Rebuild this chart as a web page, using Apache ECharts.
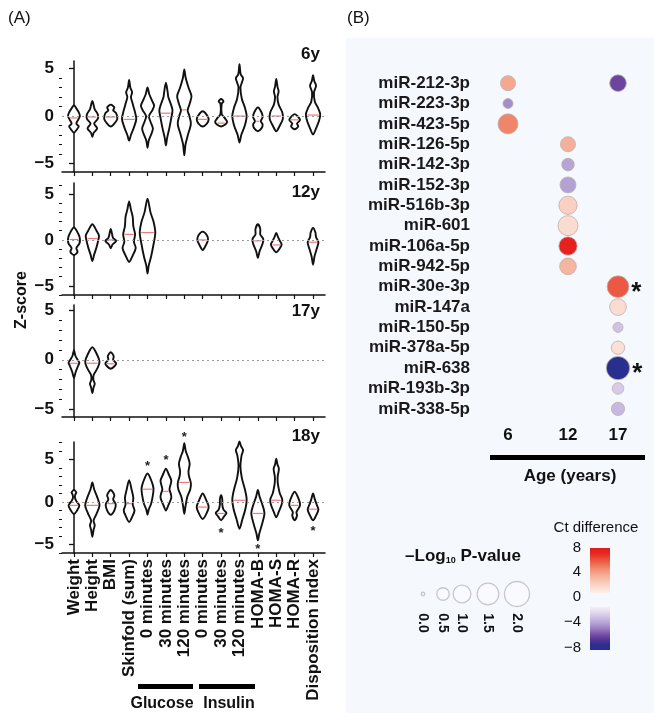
<!DOCTYPE html>
<html>
<head>
<meta charset="utf-8">
<script src="https://cdn.jsdelivr.net/npm/echarts@6/dist/echarts.min.js"></script>
<style>
  html, body { margin: 0; padding: 0; background: #fff; }
  #chart { width: 654px; height: 713px; }
</style>
</head>
<body>
<div id="chart"></div>
<script>
// ---- panel A: categories ----
var cats = ['Weight', 'Height', 'BMI', 'Skinfold (sum)', '0 minutes', '30 minutes', '120 minutes',
  '0 minutes', '30 minutes', '120 minutes', 'HOMA-B', 'HOMA-S', 'HOMA-R', 'Disposition index'];
var panelNames = ['6y', '12y', '17y', '18y'];

// violin outlines: [z, relative half-width] from bottom tip to top tip (null = no data)
var shape6y = [
  [[-1.75,0],[-1.4,0.25],[-1.1,0.4],[-0.8,0.2],[-0.4,0.35],[0,0.5],[0.4,0.4],[0.8,0.2],[1.15,0]],
  [[-2.2,0],[-1.8,0.1],[-1.3,0.4],[-0.8,0.15],[-0.3,0.45],[0.2,0.45],[0.7,0.2],[1.2,0.1],[1.6,0]],
  [[-1.1,0],[-0.8,0.3],[-0.3,0.55],[0.3,0.45],[0.6,0.2],[0.9,0.3],[1.2,0]],
  [[-2.6,0],[-2.0,0.15],[-1.2,0.4],[-0.3,0.6],[0.6,0.45],[1.5,0.25],[2.0,0.15],[2.5,0.25],[3.0,0.1],[3.8,0]],
  [[-3.35,0],[-2.6,0.1],[-1.8,0.35],[-1.3,0.45],[-0.6,0.25],[0,0.12],[0.6,0.4],[1.1,0.55],[1.7,0.35],[2.3,0.15],[3.0,0]],
  [[-3.1,0],[-2.3,0.1],[-1.2,0.3],[-0.2,0.45],[0.6,0.55],[1.3,0.4],[2.0,0.2],[2.5,0.15],[3.5,0]],
  [[-4.15,0],[-3.0,0.1],[-2.0,0.3],[-0.8,0.55],[0.1,0.4],[0.6,0.28],[1.3,0.45],[2.1,0.6],[3.0,0.35],[4.0,0.12],[4.9,0]],
  [[-1.1,0],[-0.8,0.35],[-0.35,0.5],[0.1,0.35],[0.5,0]],
  [[-1.1,0],[-0.9,0.35],[-0.6,0.5],[-0.2,0.3],[0.2,0.05],[1.3,0.05],[1.55,0.2],[1.8,0]],
  [[-2.8,0],[-2.0,0.15],[-1.0,0.45],[0,0.6],[0.9,0.45],[1.8,0.2],[3.0,0.08],[3.6,0.22],[4.0,0.3],[4.4,0.1],[5.45,0]],
  [[-1.6,0],[-1.3,0.3],[-0.9,0.4],[-0.55,0.25],[-0.1,0.4],[0.4,0.3],[0.9,0]],
  [[-1.6,0],[-1.0,0.3],[-0.3,0.55],[0.4,0.5],[1.2,0.2],[2.0,0.1],[2.6,0.2],[3.1,0.1],[3.9,0]],
  [[-1.4,0],[-1.1,0.3],[-0.8,0.2],[-0.4,0.45],[0.2,0]],
  [[-1.95,0],[-1.3,0.25],[-0.5,0.5],[0.2,0.6],[0.9,0.4],[1.5,0.15],[2.5,0.08],[3.2,0.25],[3.7,0.1],[4.3,0]]
];
var median6y = [-0.2, -0.1, -0.1, -0.35, -0.1, 0.3, 0.65, -0.35, -0.75, 0, -0.55, 0, -0.4, 0.1];

var shape12y = [
  [[-1.65,0],[-1.3,0.3],[-0.9,0.2],[-0.4,0.45],[0.1,0.5],[0.7,0.35],[1.35,0]],
  [[-2.3,0],[-1.6,0.15],[-0.8,0.35],[0,0.5],[0.5,0.55],[1.0,0.35],[1.7,0]],
  [[-0.9,0],[-0.5,0.15],[-0.1,0.45],[0.2,0.2],[0.7,0.1],[1.2,0]],
  [[-2.4,0],[-1.7,0.3],[-0.9,0.55],[-0.2,0.4],[0.6,0.5],[1.5,0.35],[2.5,0.3],[3.3,0.15],[4.2,0]],
  [[-3.65,0],[-2.8,0.1],[-1.8,0.3],[-0.5,0.5],[0.8,0.65],[2.0,0.5],[3.0,0.25],[4.5,0]],
  null, null,
  [[-1.1,0],[-0.6,0.25],[0,0.45],[0.5,0.35],[0.9,0]],
  null, null,
  [[-1.95,0],[-1.2,0.15],[-0.4,0.4],[0.1,0.45],[0.6,0.2],[1.2,0.2],[1.7,0]],
  [[-1.35,0],[-0.9,0.3],[-0.5,0.45],[-0.1,0.3],[0.3,0.15],[0.75,0]],
  null,
  [[-2.7,0],[-1.8,0.12],[-1.0,0.3],[-0.25,0.45],[0.3,0.25],[0.8,0.2],[1.3,0]]
];
var median12y = [0.05, 0.15, 0, 0.6, 0.8, null, null, 0, null, null, -0.1, -0.55, null, -0.25];

var shape17y = [
  [[-1.8,0],[-1.2,0.15],[-0.6,0.35],[-0.3,0.45],[0,0.3],[0.4,0.12],[0.95,0]],
  [[-3.35,0],[-2.8,0.1],[-2.4,0.2],[-2.0,0.08],[-1.5,0.12],[-0.8,0.45],[-0.2,0.6],[0.5,0.4],[1.25,0]],
  [[-0.9,0],[-0.6,0.35],[-0.35,0.45],[0,0.2],[0.35,0.25],[0.75,0]],
  null, null, null, null, null, null, null, null, null, null, null
];
var median17y = [-0.35, -0.35, -0.4, null, null, null, null, null, null, null, null, null, null, null];

var shape18y = [
  [[-1.4,0],[-0.9,0.3],[-0.4,0.45],[0.1,0.2],[0.5,0.08],[0.9,0.12],[1.1,0.2],[1.4,0]],
  [[-4.1,0],[-3.3,0.1],[-2.75,0.2],[-2.2,0.1],[-1.4,0.35],[-0.4,0.6],[0.6,0.4],[1.5,0.15],[2.3,0]],
  [[-1.5,0],[-1.0,0.3],[-0.3,0.42],[0.3,0.2],[0.8,0.3],[1.4,0]],
  [[-2.35,0],[-1.6,0.3],[-1.0,0.45],[-0.3,0.3],[0.5,0.35],[1.5,0.2],[2.55,0]],
  [[-1.5,0],[-0.9,0.1],[-0.2,0.3],[0.8,0.45],[1.6,0.5],[2.4,0.35],[3.35,0]],
  [[-1.0,0],[-0.4,0.2],[0.5,0.45],[1.0,0.4],[1.5,0.3],[2.5,0.45],[3.2,0.25],[3.9,0]],
  [[-1.4,0],[-0.5,0.1],[0.6,0.25],[1.5,0.5],[2.2,0.55],[3.0,0.4],[3.6,0.35],[4.5,0.45],[5.3,0.3],[6.0,0.12],[6.9,0]],
  [[-2.0,0],[-1.4,0.3],[-0.6,0.5],[0.2,0.3],[1.0,0]],
  [[-2.15,0],[-1.7,0.25],[-1.3,0.45],[-0.9,0.2],[-0.3,0.1],[0.3,0.1],[0.8,0]],
  [[-3.15,0],[-2.0,0.25],[-0.8,0.5],[0.3,0.6],[1.5,0.45],[2.8,0.2],[4.2,0.08],[5.5,0.18],[6.1,0.3],[6.6,0.12],[7.1,0]],
  [[-4.5,0],[-3.7,0.12],[-2.6,0.35],[-1.3,0.55],[-0.2,0.35],[0.6,0.15],[1.4,0]],
  [[-1.8,0],[-1.2,0.2],[-0.3,0.45],[0.3,0.5],[1.0,0.3],[1.6,0.2],[2.3,0.12],[3.0,0.12],[3.9,0.22],[4.4,0.1],[5.1,0]],
  [[-2.15,0],[-1.6,0.2],[-1.2,0.15],[-0.4,0.45],[0.3,0.35],[1.2,0]],
  [[-2.15,0],[-1.6,0.25],[-0.9,0.45],[-0.3,0.3],[0.3,0.15],[1.0,0]]
];
var median18y = [-0.4, -0.4, -0.2, -0.2, 1.5, 1.25, 2.3, -0.6, -1.35, 0.2, -1.35, 0.2, -0.4, -0.85];

// significance stars in the 18y panel: [category index, z]
var stars18y = [[4, 4.5], [5, 5.2], [6, 7.9], [8, -3.35], [10, -5.2], [13, -3.15]];

var zTicks = [-5, 0, 5];

// ---- panel B ----
var mirNames = ['miR-212-3p', 'miR-223-3p', 'miR-423-5p', 'miR-126-5p', 'miR-142-3p', 'miR-152-3p',
  'miR-516b-3p', 'miR-601', 'miR-106a-5p', 'miR-942-5p', 'miR-30e-3p', 'miR-147a', 'miR-150-5p',
  'miR-378a-5p', 'miR-638', 'miR-193b-3p', 'miR-338-5p'];
var ages = [6, 12, 17];
// one entry per bubble
var bubbleRow  = [0, 0, 1, 2, 3, 4, 5, 6, 7, 8, 9, 10, 11, 12, 13, 14, 15, 16];
var bubbleAge  = [6, 17, 6, 6, 12, 12, 12, 12, 12, 12, 12, 17, 17, 17, 17, 17, 17, 17];
var bubbleCt   = [3.3, -5.5, -3.6, 4.5, 3.0, -2.9, -3.0, 1.6, 1.0, 7.5, 2.8, 5.7, 1.0, -1.8, 0.8, -7.8, -1.5, -2.2];
var bubbleLogP = [0.72, 0.89, 0.32, 1.28, 0.72, 0.51, 0.82, 1.07, 1.28, 1.07, 0.89, 1.5, 0.89, 0.32, 0.57, 1.74, 0.43, 0.57];
var bubbleStar = [0, 0, 0, 0, 0, 0, 0, 0, 0, 0, 0, 1, 0, 0, 0, 1, 0, 0];
var sizeLegend = [0.0, 0.5, 1.0, 1.5, 2.0];
var ctTicks = [8, 4, 0, -4, -8];
// colour ramps, from the value nearest 0 outwards
var posColors = ['#fdf1ec', '#fbdcd1', '#f8c8b6', '#f5b09a', '#f2967a', '#ee7459', '#ea4e38', '#e52a22', '#e41a1c'];
var negColors = ['#f3eff8', '#e2d9ee', '#cbbde3', '#b4a2d4', '#9a7fc0', '#7b55a8', '#5a3596', '#2e2f90', '#262f8e'];

var FONT = '"Liberation Sans", Arial, Helvetica, sans-serif';

function bubbleSize(v) {
  return Math.max(3.5, 17.7 * Math.sqrt(v));
}
function minus(v) {
  return v < 0 ? '\u2212' + (-v) : String(v);
}

// panel A layout
var gridsA = [
  { top: 61, height: 111, min: -5.9, max: 5.8 },
  { top: 183, height: 112, min: -6.0, max: 6.2 },
  { top: 305, height: 112, min: -5.75, max: 5.5 },
  { top: 442, height: 111, min: -6.0, max: 7.05 }
];
var shapes = [shape6y, shape12y, shape17y, shape18y];
var medians = [median6y, median12y, median17y, median18y];

function widthAt(prof, z) {
  for (var k = 0; k < prof.length - 1; k++) {
    var a = prof[k], b = prof[k + 1];
    if (z >= a[0] && z <= b[0]) {
      var t = (z - a[0]) / (b[0] - a[0]);
      return a[1] + t * (b[1] - a[1]);
    }
  }
  return 0;
}

function violinRender(p) {
  return function (params, api) {
    var i = api.value(0);
    var prof = shapes[p][i];
    var med = medians[p][i];
    var cx = api.coord([i, 0])[0];
    var half = api.size([1, 0])[0] / 2 * 1.3;
    var pts = [];
    var k;
    for (k = 0; k < prof.length; k++) {
      pts.push([cx + prof[k][1] * half, api.coord([i, prof[k][0]])[1]]);
    }
    for (k = prof.length - 2; k >= 1; k--) {
      pts.push([cx - prof[k][1] * half, api.coord([i, prof[k][0]])[1]]);
    }
    var my = api.coord([i, med])[1];
    var mw = widthAt(prof, med) * half - 1.4;
    return {
      type: 'group',
      children: [
        {
          type: 'polygon',
          shape: { points: pts, smooth: 0.3 },
          style: { fill: '#fff', stroke: '#111', lineWidth: 1.9 }
        },
        {
          type: 'line',
          shape: { x1: cx - mw, y1: my, x2: cx + mw, y2: my },
          style: { stroke: '#f07a7a', lineWidth: 1.2 }
        }
      ]
    };
  };
}

var grid = [], xAxis = [], yAxis = [], series = [];
var catIdx = cats.map(function (c, i) { return i; });

gridsA.forEach(function (g, p) {
  grid.push({ left: 62, top: g.top, width: 263, height: g.height });
  xAxis.push({
    type: 'value', gridIndex: p, min: -0.65, max: 13.65,
    splitLine: { show: false },
    axisLine: { show: true, onZero: false, lineStyle: { color: '#111', width: 1.5 } },
    axisTick: { show: true, customValues: catIdx, length: 4, lineStyle: { color: '#111', width: 1.2 } },
    axisLabel: {
      show: p === 3, customValues: catIdx, rotate: 90, margin: 6,
      fontFamily: FONT, fontSize: 17, fontWeight: 'bold', color: '#111',
      formatter: function (v) { return cats[Math.round(v)]; }
    }
  });
  yAxis.push({
    type: 'value', gridIndex: p, min: g.min, max: g.max,
    splitLine: { show: false },
    axisLine: { show: true, lineStyle: { color: '#111', width: 1.5 } },
    axisTick: { show: true, customValues: zTicks, length: 5, lineStyle: { color: '#111', width: 1.3 } },
    axisLabel: {
      customValues: zTicks, margin: 8, fontFamily: FONT, fontSize: 17, fontWeight: 'bold', color: '#111',
      formatter: minus
    }
  });
});
// minor ticks on the Z-score axes
gridsA.forEach(function (g, p) {
  var minor = [];
  for (var v = Math.ceil(g.min); v <= Math.floor(g.max); v++) {
    if (zTicks.indexOf(v) < 0) minor.push(v);
  }
  yAxis.push({
    type: 'value', gridIndex: p, min: g.min, max: g.max, position: 'left',
    splitLine: { show: false }, axisLine: { show: false }, axisLabel: { show: false },
    axisTick: { show: true, customValues: minor, length: 3, lineStyle: { color: '#111', width: 1 } }
  });
});

gridsA.forEach(function (g, p) {
  series.push({
    type: 'line', xAxisIndex: p, yAxisIndex: p, data: [], z: 1, silent: true,
    markLine: {
      silent: true, symbol: 'none', label: { show: false },
      lineStyle: { type: [2, 3], color: '#9a9a9a', width: 1.2 },
      data: [{ yAxis: 0 }]
    }
  });
  var vd = [];
  shapes[p].forEach(function (s, i) { if (s) vd.push([i, medians[p][i]]); });
  series.push({
    type: 'custom', xAxisIndex: p, yAxisIndex: p, z: 3, silent: true,
    renderItem: violinRender(p), data: vd, clip: false
  });
});

series.push({
  type: 'custom', xAxisIndex: 3, yAxisIndex: 3, z: 4, silent: true, clip: false,
  data: stars18y,
  renderItem: function (params, api) {
    var pt = api.coord([api.value(0), api.value(1)]);
    return {
      type: 'text',
      style: {
        text: '*', x: pt[0], y: pt[1] + 3, align: 'center', verticalAlign: 'middle',
        fontFamily: FONT, fontSize: 13, fontWeight: 'bold', fill: '#222'
      }
    };
  }
});

// panel B
grid.push({ left: 478, top: 73, width: 160, height: 346 });
xAxis.push({
  type: 'value', gridIndex: 4, min: 3, max: 19,
  splitLine: { show: false }, axisLine: { show: false }, axisTick: { show: false },
  axisLabel: {
    customValues: ages, margin: 8, fontFamily: FONT, fontSize: 17, fontWeight: 'bold', color: '#111'
  }
});
yAxis.push({
  type: 'category', gridIndex: 4, data: mirNames, inverse: true,
  axisLine: { show: false }, axisTick: { show: false }, splitLine: { show: false },
  axisLabel: { margin: 8, fontFamily: FONT, fontSize: 17, fontWeight: 'bold', color: '#1a1a1a', interval: 0 }
});

var bubbles = bubbleRow.map(function (r, i) {
  return [bubbleAge[i], r, bubbleCt[i], bubbleLogP[i], bubbleStar[i]];
});
function bubbleSeries(list) {
  return {
    type: 'scatter', xAxisIndex: 4, yAxisIndex: 8, z: 5, silent: true,
    data: list,
    symbolSize: function (v) { return bubbleSize(v[3]); },
    itemStyle: { borderColor: 'rgba(190,175,175,0.8)', borderWidth: 1, opacity: 1 },
    label: {
      show: true, position: 'right', distance: 2, offset: [0, 6],
      formatter: function (p) { return p.value[4] ? '*' : ''; },
      fontFamily: FONT, fontSize: 26, fontWeight: 'bold', color: '#111'
    }
  };
}
series.push(bubbleSeries(bubbles.filter(function (b) { return b[2] >= 0; })));
series.push(bubbleSeries(bubbles.filter(function (b) { return b[2] < 0; })));
var posIndex = series.length - 2, negIndex = series.length - 1;

function rampStops(colors, topFirst) {
  var list = topFirst ? colors.slice().reverse() : colors.slice();
  return list.map(function (c, i) { return { offset: i / (list.length - 1), color: c }; });
}

var graphic = [
  { type: 'rect', z: -10, shape: { x: 346, y: 38, width: 308, height: 675 }, style: { fill: '#f5f8fd' } },
  { type: 'text', style: { text: '(A)', x: 8, y: 18, verticalAlign: 'middle', fontFamily: FONT, fontSize: 17, fill: '#111' } },
  { type: 'text', style: { text: '(B)', x: 347, y: 18, verticalAlign: 'middle', fontFamily: FONT, fontSize: 17, fill: '#111' } },
  { type: 'text', x: 22, y: 300, rotation: Math.PI / 2,
    style: { text: 'Z-score', align: 'center', verticalAlign: 'middle', fontFamily: FONT, fontSize: 16, fontWeight: 'bold', fill: '#111' } },
  { type: 'rect', shape: { x: 138, y: 684, width: 55, height: 5 }, style: { fill: '#000' } },
  { type: 'rect', shape: { x: 199, y: 684, width: 56, height: 5 }, style: { fill: '#000' } },
  { type: 'text', style: { text: 'Glucose', x: 162, y: 704, align: 'center', verticalAlign: 'middle', fontFamily: FONT, fontSize: 16, fontWeight: 'bold', fill: '#111' } },
  { type: 'text', style: { text: 'Insulin', x: 229, y: 704, align: 'center', verticalAlign: 'middle', fontFamily: FONT, fontSize: 16, fontWeight: 'bold', fill: '#111' } },
  { type: 'rect', shape: { x: 490, y: 455, width: 155, height: 5 }, style: { fill: '#000' } },
  { type: 'text', style: { text: 'Age (years)', x: 570, y: 476, align: 'center', verticalAlign: 'middle', fontFamily: FONT, fontSize: 17, fontWeight: 'bold', fill: '#111' } },
  { type: 'text', style: { text: 'Ct difference', x: 596, y: 528, align: 'center', verticalAlign: 'middle', fontFamily: FONT, fontSize: 15, fill: '#111' } },
  { type: 'text', style: {
      text: '{a|\u2013Log}{s|10}{a| P-value}', x: 463, y: 556, align: 'center', verticalAlign: 'middle',
      rich: {
        a: { fontFamily: FONT, fontSize: 17, fontWeight: 'bold', fill: '#111' },
        s: { fontFamily: FONT, fontSize: 9, fontWeight: 'bold', fill: '#111', padding: [9, 0, 0, 0] }
      }
    } },
  // colour bar: red piece (0..8) and purple piece (-8..0)
  { type: 'rect', shape: { x: 590, y: 548, width: 20, height: 45 },
    style: { fill: new echarts.graphic.LinearGradient(0, 0, 0, 1, rampStops(posColors, true)) } },
  { type: 'rect', shape: { x: 590, y: 607, width: 20, height: 43 },
    style: { fill: new echarts.graphic.LinearGradient(0, 0, 0, 1, rampStops(negColors, false)) } }
];
panelNames.forEach(function (n, p) {
  var ys = [54, 192, 311, 436];
  graphic.push({ type: 'text', style: { text: n, x: 320, y: ys[p], align: 'right', verticalAlign: 'middle', fontFamily: FONT, fontSize: 17, fontWeight: 'bold', fill: '#111' } });
});
var legX = [423, 443, 462, 488, 517];
sizeLegend.forEach(function (v, i) {
  graphic.push({ type: 'circle', shape: { cx: legX[i], cy: 594, r: bubbleSize(v) / 2 }, style: { fill: 'rgba(255,255,255,0.3)', stroke: '#c8c8c8', lineWidth: 1.3 } });
  graphic.push({ type: 'text', x: legX[i], y: 623, rotation: -Math.PI / 2,
    style: { text: v.toFixed(1), align: 'center', verticalAlign: 'middle', fontFamily: FONT, fontSize: 14, fontWeight: 'bold', fill: '#111' } });
});
var ctY = [548, 572, 597, 622, 648];
ctTicks.forEach(function (t, i) {
  graphic.push({ type: 'text', style: { text: minus(t), x: 581, y: ctY[i], align: 'right', verticalAlign: 'middle', fontFamily: FONT, fontSize: 15, fill: '#111' } });
});

var option = {
  backgroundColor: '#fff',
  animation: false,
  textStyle: { fontFamily: FONT },
  grid: grid,
  xAxis: xAxis,
  yAxis: yAxis,
  series: series,
  graphic: graphic,
  visualMap: [
    {
      type: 'continuous', show: false, min: 0, max: 8, dimension: 2, seriesIndex: posIndex,
      inRange: { color: posColors }
    },
    {
      type: 'continuous', show: false, min: -8, max: 0, dimension: 2, seriesIndex: negIndex,
      inRange: { color: negColors.slice().reverse() }
    }
  ]
};

var chart = echarts.init(document.getElementById('chart'), null, { renderer: 'canvas' });
chart.setOption(option);
</script>
</body>
</html>
